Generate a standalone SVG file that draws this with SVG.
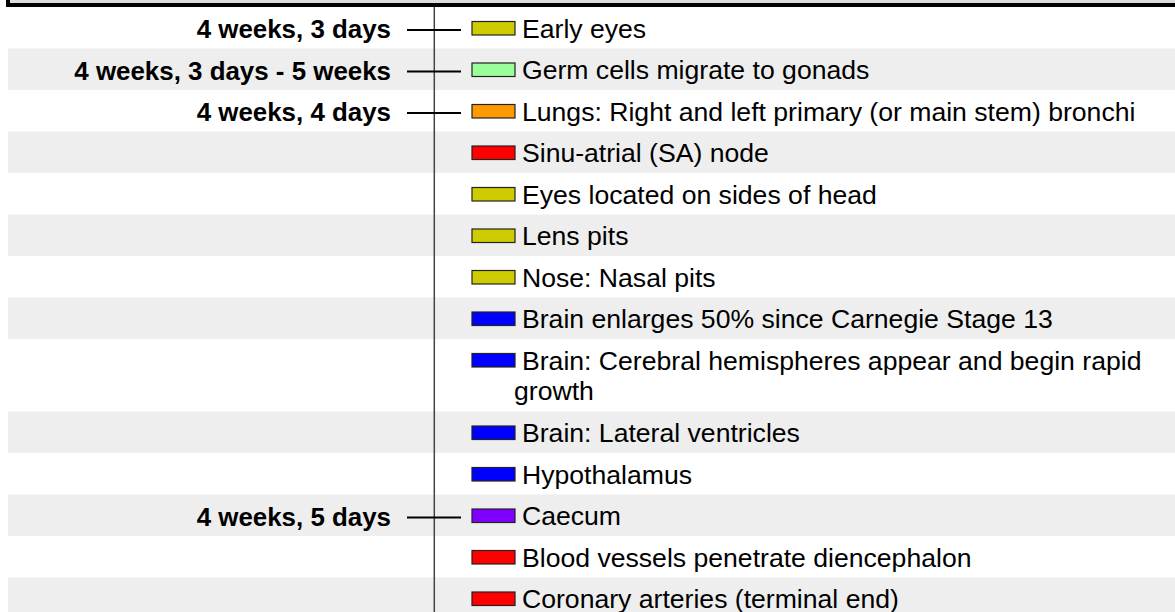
<svg xmlns="http://www.w3.org/2000/svg" width="1175" height="612" viewBox="0 0 1175 612">
<style>
.bg{fill:#eeeeee}
.lbl{font-family:"Liberation Sans",Arial,sans-serif;font-size:26.6px;fill:#000}
.date{font-family:"Liberation Sans",Arial,sans-serif;font-size:25.9px;font-weight:bold;fill:#000;text-anchor:end}
.sw{stroke:#222;stroke-width:1.2}
.tick{stroke:#000;stroke-width:2}
</style>
<rect x="8" y="-100" width="1200" height="105" fill="#dddddd" stroke="#000" stroke-width="4"/>
<g id="rows">
<rect class="bg" x="8" y="48.5" width="1167" height="41.5"/>
<rect class="bg" x="8" y="131.5" width="1167" height="41.5"/>
<rect class="bg" x="8" y="214.5" width="1167" height="41.5"/>
<rect class="bg" x="8" y="297.5" width="1167" height="41.5"/>
<rect class="bg" x="8" y="411.5" width="1167" height="41.5"/>
<rect class="bg" x="8" y="494.5" width="1167" height="41.5"/>
<rect class="bg" x="8" y="577.5" width="1167" height="41.5"/>
</g>
<g id="connectors">
<line x1="434.3" y1="7" x2="434.3" y2="612" stroke="#444" stroke-width="1.5"/>
<line class="tick" x1="407" y1="30" x2="461" y2="30"/>
<line class="tick" x1="407" y1="71.5" x2="461" y2="71.5"/>
<line class="tick" x1="407" y1="113" x2="461" y2="113"/>
<line class="tick" x1="407" y1="517.5" x2="461" y2="517.5"/>
</g>
<g id="dates">
<text class="date" x="391" y="38">4 weeks, 3 days</text>
<text class="date" x="391" y="79.5">4 weeks, 3 days - 5 weeks</text>
<text class="date" x="391" y="121">4 weeks, 4 days</text>
<text class="date" x="391" y="525.5">4 weeks, 5 days</text>
</g>
<g id="n0"><rect class="sw" x="472" y="21.5" width="43" height="13.5" fill="#cccc00"/><text class="lbl" x="522" y="37.5">Early eyes</text></g>
<g id="n1"><rect class="sw" x="472" y="63" width="43" height="13.5" fill="#99ff99"/><text class="lbl" x="522" y="79">Germ cells migrate to gonads</text></g>
<g id="n2"><rect class="sw" x="472" y="104.5" width="43" height="13.5" fill="#ff9900"/><text class="lbl" x="522" y="120.5">Lungs: Right and left primary (or main stem) bronchi</text></g>
<g id="n3"><rect class="sw" x="472" y="146" width="43" height="13.5" fill="#ff0000"/><text class="lbl" x="522" y="162">Sinu-atrial (SA) node</text></g>
<g id="n4"><rect class="sw" x="472" y="187.5" width="43" height="13.5" fill="#cccc00"/><text class="lbl" x="522" y="203.5">Eyes located on sides of head</text></g>
<g id="n5"><rect class="sw" x="472" y="229" width="43" height="13.5" fill="#cccc00"/><text class="lbl" x="522" y="245">Lens pits</text></g>
<g id="n6"><rect class="sw" x="472" y="270.5" width="43" height="13.5" fill="#cccc00"/><text class="lbl" x="522" y="286.5">Nose: Nasal pits</text></g>
<g id="n7"><rect class="sw" x="472" y="312" width="43" height="13.5" fill="#0000ff"/><text class="lbl" x="522" y="328">Brain enlarges 50% since Carnegie Stage 13</text></g>
<g id="n8"><rect class="sw" x="472" y="353.5" width="43" height="13.5" fill="#0000ff"/><text class="lbl" x="522" y="369.5">Brain: Cerebral hemispheres appear and begin rapid</text><text class="lbl" x="514" y="400">growth</text></g>
<g id="n9"><rect class="sw" x="472" y="426" width="43" height="13.5" fill="#0000ff"/><text class="lbl" x="522" y="442">Brain: Lateral ventricles</text></g>
<g id="n10"><rect class="sw" x="472" y="467.5" width="43" height="13.5" fill="#0000ff"/><text class="lbl" x="522" y="483.5">Hypothalamus</text></g>
<g id="n11"><rect class="sw" x="472" y="509" width="43" height="13.5" fill="#8000ff"/><text class="lbl" x="522" y="525">Caecum</text></g>
<g id="n12"><rect class="sw" x="472" y="550.5" width="43" height="13.5" fill="#ff0000"/><text class="lbl" x="522" y="566.5">Blood vessels penetrate diencephalon</text></g>
<g id="n13"><rect class="sw" x="472" y="592" width="43" height="13.5" fill="#ff0000"/><text class="lbl" x="522" y="608">Coronary arteries (terminal end)</text></g>
</svg>
